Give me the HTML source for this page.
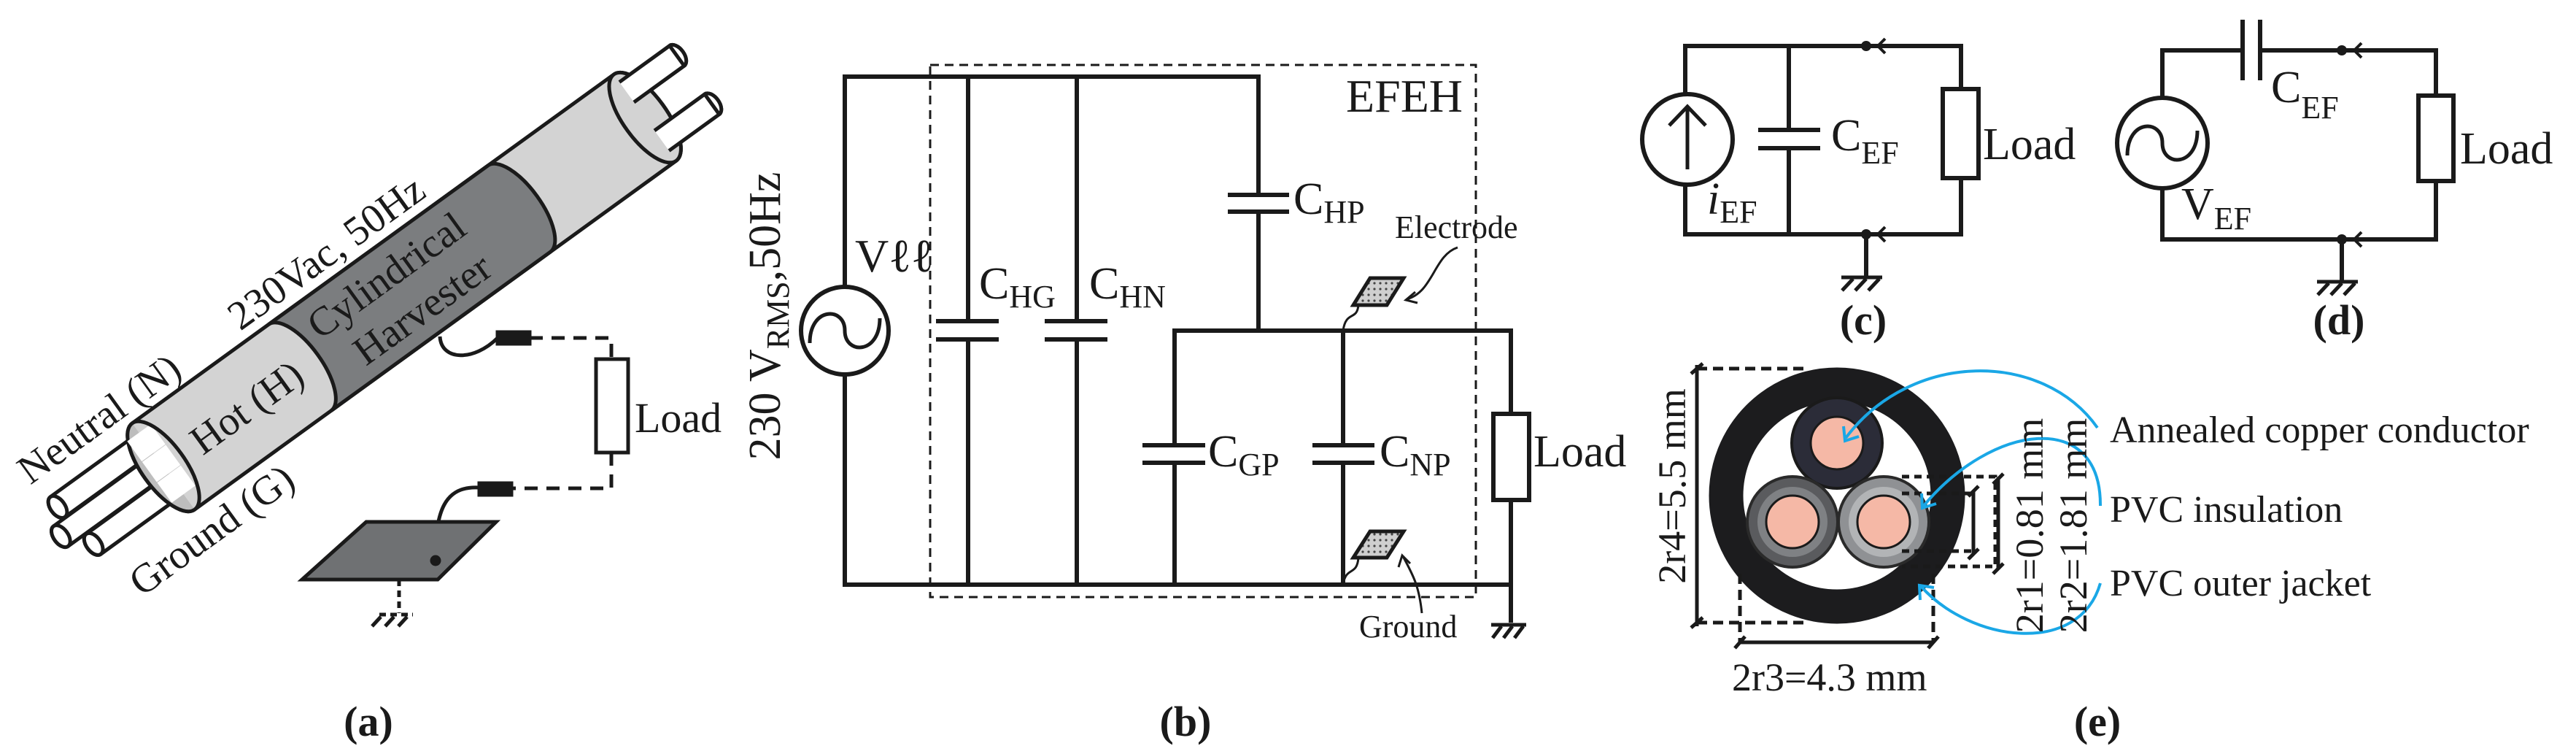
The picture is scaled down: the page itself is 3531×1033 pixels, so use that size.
<!DOCTYPE html>
<html><head><meta charset="utf-8"><style>
html,body{margin:0;padding:0;background:#fff;}
svg{display:block;}
text{font-family:"Liberation Serif",serif;fill:#1a1a1a;}
</style></head><body>
<svg width="3531" height="1033" viewBox="0 0 3531 1033" xmlns="http://www.w3.org/2000/svg">
<defs>
<pattern id="dots" width="8" height="8" patternUnits="userSpaceOnUse">
<rect width="8" height="8" fill="#cfcfcf"/><circle cx="4" cy="4" r="1.6" fill="#444"/>
</pattern>
</defs>

<!-- ============ (a) ============ -->
<g transform="translate(224,639) rotate(-35.9)" stroke="#1a1a1a" stroke-width="5">
  <!-- wires left -->
  <g fill="#fff">
    <path d="M-150,-57 L40,-57 L40,-23 L-150,-23 A10,17 0 0 1 -150,-57 Z"/>
    <ellipse cx="-150" cy="-40" rx="10" ry="17"/>
    <path d="M-170,-22 L40,-22 L40,12 L-170,12 A10,17 0 0 1 -170,-22 Z"/>
    <ellipse cx="-170" cy="-5" rx="10" ry="17"/>
    <path d="M-140,13 L40,13 L40,47 L-140,47 A10,17 0 0 1 -140,13 Z"/>
    <ellipse cx="-140" cy="30" rx="10" ry="17"/>
  </g>
  <!-- wires right -->
  <g fill="#fff">
    <path d="M790,-60 L900,-60 A10,17 0 0 1 900,-26 L790,-26 Z"/>
    <ellipse cx="900" cy="-43" rx="10" ry="17"/>
    <path d="M790,22 L900,22 A10,17 0 0 1 900,56 L790,56 Z"/>
    <ellipse cx="900" cy="39" rx="10" ry="17"/>
  </g>
  <!-- tube -->
  <path d="M0,-73 L815,-73 A30,73 0 0 1 815,73 L0,73 A30,73 0 0 1 0,-73 Z" fill="#d3d3d3"/>
  <path d="M231,-73 A30,73 0 0 1 231,73 L602,73 A30,73 0 0 0 602,-73 Z" fill="#7b7d7f"/>
  <ellipse cx="815" cy="0" rx="30" ry="73" fill="#d3d3d3"/>
  <!-- left opening -->
  <path d="M0,-73 A30,73 0 0 0 0,73" fill="#bdbdbd"/>
  <g fill="#fff">
    <rect x="-20" y="-57" width="40" height="34" stroke="none"/>
    <rect x="-20" y="-22" width="40" height="34" stroke="none"/>
    <rect x="-20" y="13" width="40" height="34" stroke="none"/>
  </g>
  <path d="M0,-73 A30,73 0 0 1 0,73" fill="none"/>
  <!-- right wires emerging over face -->
  <g fill="#fff">
    <path d="M815,-60 L900,-60 L900,-26 L815,-26" />
    <path d="M815,22 L900,22 L900,56 L815,56" />
  </g>
  <g stroke="none">
    <text x="-163" y="-86" font-size="56">Neutral (N)</text>
    <text x="194" y="-88" font-size="56">230Vac, 50Hz</text>
    <text x="52" y="20" font-size="56">Hot (H)</text>
    <text x="275" y="-14" font-size="56">Cylindrical</text>
    <text x="305" y="52" font-size="56">Harvester</text>
    <text x="-129" y="128" font-size="56">Ground (G)</text>
  </g>
</g>
<!-- harvester connection -->
<g stroke="#1a1a1a" stroke-width="5" fill="none">
  <path d="M603,461 C605,495 650,495 682,463"/>
  <rect x="682" y="455" width="44" height="16" fill="#1a1a1a"/>
  <path d="M726,463 L838,463 L838,492" stroke-dasharray="18,12"/>
  <rect x="817" y="492" width="44" height="128" fill="#fff"/>
  <path d="M838,620 L838,669 L701,669" stroke-dasharray="18,12"/>
  <rect x="657" y="662" width="44" height="16" fill="#1a1a1a"/>
  <path d="M657,668 C610,665 596,700 597,768"/>
  <path d="M414,794 L502,715 L680,715 L600,794 Z" fill="#6f7173"/>
  <circle cx="597" cy="768" r="5" fill="#1a1a1a"/>
  <path d="M547,794 L547,840" stroke-dasharray="9,6"/>
  <path d="M520,842 L566,842" stroke-dasharray="9,6"/>
  <path d="M522,845 L510,858 M540,845 L528,858 M558,845 L546,858"/>
</g>
<text x="870" y="592" font-size="58">Load</text>
<text x="505" y="1008" font-size="58" font-weight="bold" text-anchor="middle">(a)</text>

<!-- ============ (b) ============ -->
<g stroke="#1a1a1a" stroke-width="6" fill="none">
  <rect x="1275" y="89" width="748" height="729" stroke-width="3" stroke-dasharray="12,8"/>
  <path d="M1158,393 L1158,105 L1725,105 L1725,267 M1725,290 L1725,453"/>
  <path d="M1158,513 L1158,801 L2071,801"/>
  <circle cx="1158" cy="453" r="60" fill="#fff"/>
  <path d="M1110,470 C1110,420 1158,420 1158,453 C1158,486 1206,486 1206,436" stroke-width="5"/>
  <path d="M1327,105 L1327,440 M1327,465 L1327,801 M1283,440 L1369,440 M1283,465 L1369,465"/>
  <path d="M1476,105 L1476,440 M1476,465 L1476,801 M1432,440 L1518,440 M1432,465 L1518,465"/>
  <path d="M1683,267 L1767,267 M1683,290 L1767,290"/>
  <path d="M1610,801 L1610,634 M1610,610 L1610,453 L2071,453 L2071,567 M2071,685 L2071,853"/>
  <path d="M1566,610 L1652,610 M1566,634 L1652,634"/>
  <path d="M1841,801 L1841,634 M1841,610 L1841,453 M1799,610 L1884,610 M1799,634 L1884,634"/>
  <rect x="2047" y="567" width="49" height="118" fill="#fff"/>
  <path d="M2044,856 L2092,856 M2058,858 L2046,874 M2073,858 L2061,874 M2088,858 L2076,874" stroke-width="5"/>
  <!-- electrodes -->
  <path d="M1841,453 C1845,425 1860,440 1862,418" stroke-width="3"/>
  <path d="M1855,418 L1878,381 L1924,381 L1901,418 Z" fill="url(#dots)" stroke-width="5"/>
  <path d="M1841,801 C1845,775 1860,790 1862,764" stroke-width="3"/>
  <path d="M1855,764 L1878,728 L1924,728 L1901,764 Z" fill="url(#dots)" stroke-width="5"/>
  <path d="M1998,339 C1965,350 1965,400 1928,410" stroke-width="3"/>
  <path d="M1940,400 L1927,411 L1943,415" stroke-width="3"/>
  <path d="M1949,840 C1945,800 1935,785 1923,762" stroke-width="3"/>
  <path d="M1917,777 L1922,761 L1933,772" stroke-width="3"/>
</g>
<text x="1172" y="372" font-size="64">Vℓℓ</text>
<text x="1342" y="409" font-size="62">C<tspan font-size="44" dy="12">HG</tspan></text>
<text x="1493" y="409" font-size="62">C<tspan font-size="44" dy="12">HN</tspan></text>
<text x="1773" y="293" font-size="62">C<tspan font-size="44" dy="12">HP</tspan></text>
<text x="1656" y="639" font-size="62">C<tspan font-size="44" dy="12">GP</tspan></text>
<text x="1891" y="639" font-size="62">C<tspan font-size="44" dy="12">NP</tspan></text>
<text x="1845" y="153" font-size="64">EFEH</text>
<text x="1912" y="326" font-size="44">Electrode</text>
<text x="1863" y="873" font-size="44">Ground</text>
<text x="2102" y="639" font-size="62">Load</text>
<text transform="translate(1069,433) rotate(-90)" font-size="62" text-anchor="middle">230 V<tspan font-size="44" dy="12">RMS</tspan><tspan dy="-12">,50Hz</tspan></text>
<text x="1625" y="1008" font-size="58" font-weight="bold" text-anchor="middle">(b)</text>

<!-- ============ (c) ============ -->
<g stroke="#1a1a1a" stroke-width="6" fill="none">
  <path d="M2310,129 L2310,63 L2558,63 L2688,63 L2688,122 M2688,244 L2688,321 L2310,321 L2310,254"/>
  <circle cx="2313" cy="191" r="62" fill="#fff"/>
  <path d="M2313,232 L2313,146 M2288,172 L2313,146 L2338,172" stroke-width="5"/>
  <path d="M2452,63 L2452,178 M2452,203 L2452,321 M2410,178 L2495,178 M2410,203 L2495,203"/>
  <rect x="2663" y="122" width="49" height="122" fill="#fff"/>
  <path d="M2558,321 L2558,380"/>
  <path d="M2524,380 L2580,380 M2540,382 L2525,398 M2558,382 L2543,398 M2576,382 L2561,398" stroke-width="5"/>
  <path d="M2584,53 L2574,63 L2584,73 M2584,311 L2574,321 L2584,331" stroke-width="4"/>
</g>
<circle cx="2558" cy="63" r="7" fill="#1a1a1a"/>
<circle cx="2558" cy="321" r="7" fill="#1a1a1a"/>
<text x="2510" y="206" font-size="62">C<tspan font-size="44" dy="18">EF</tspan></text>
<text x="2718" y="218" font-size="62">Load</text>
<text x="2340" y="293" font-size="62" font-style="italic">i<tspan font-size="44" font-style="normal" dy="12">EF</tspan></text>
<text x="2554" y="458" font-size="58" font-weight="bold" text-anchor="middle">(c)</text>

<!-- ============ (d) ============ -->
<g stroke="#1a1a1a" stroke-width="6" fill="none">
  <path d="M2964,134 L2964,69 L3074,69 M3098,69 L3339,69 L3339,131 M3339,248 L3339,328 L2964,328 L2964,258"/>
  <path d="M3074,27 L3074,110 M3098,27 L3098,110"/>
  <circle cx="2964" cy="196" r="62" fill="#fff"/>
  <path d="M2916,213 C2916,163 2964,163 2964,196 C2964,229 3012,229 3012,179" stroke-width="5"/>
  <rect x="3315" y="131" width="48" height="117" fill="#fff"/>
  <path d="M3210,328 L3210,386"/>
  <path d="M3176,386 L3232,386 M3192,388 L3177,404 M3210,388 L3195,404 M3228,388 L3213,404" stroke-width="5"/>
  <path d="M3237,59 L3227,69 L3237,79 M3237,318 L3227,328 L3237,338" stroke-width="4"/>
</g>
<circle cx="3210" cy="69" r="7" fill="#1a1a1a"/>
<circle cx="3210" cy="328" r="7" fill="#1a1a1a"/>
<text x="3113" y="140" font-size="62">C<tspan font-size="44" dy="22">EF</tspan></text>
<text x="3372" y="224" font-size="62">Load</text>
<text x="2990" y="300" font-size="62">V<tspan font-size="44" dy="14">EF</tspan></text>
<text x="3206" y="458" font-size="58" font-weight="bold" text-anchor="middle">(d)</text>

<!-- ============ (e) ============ -->
<circle cx="2518" cy="679" r="152" fill="none" stroke="#1c1c1e" stroke-width="47"/>
<circle cx="2518" cy="607" r="62" fill="#2b2c38" stroke="#1a1a1a" stroke-width="4"/>
<circle cx="2518" cy="607" r="36" fill="#f5b8a6" stroke="#1a1a1a" stroke-width="3"/>
<circle cx="2457" cy="715" r="62" fill="#5a5b5e" stroke="#2a2a2a" stroke-width="4"/>
<circle cx="2457" cy="715" r="48" fill="#7f8184"/>
<circle cx="2457" cy="715" r="36" fill="#f5b8a6" stroke="#1a1a1a" stroke-width="3"/>
<circle cx="2582" cy="715" r="62" fill="#8f9194" stroke="#2a2a2a" stroke-width="4"/>
<circle cx="2582" cy="715" r="48" fill="#b2b4b6"/>
<circle cx="2582" cy="715" r="36" fill="#f5b8a6" stroke="#1a1a1a" stroke-width="3"/>
<g stroke="#1a1a1a" stroke-width="5" fill="none">
  <path d="M2326,505 L2480,505 M2326,853 L2480,853" stroke-dasharray="14,8"/>
  <path d="M2326,500 L2326,858 M2318,512 L2334,498 M2318,860 L2334,846"/>
  <path d="M2385,786 L2385,880 M2650,786 L2650,880" stroke-dasharray="14,8"/>
  <path d="M2385,880 L2650,880 M2378,888 L2392,872 M2643,888 L2657,872"/>
  <path d="M2607,653 L2735,653 L2735,776 L2607,776" stroke-dasharray="10,7"/>
  <path d="M2607,676 L2705,676 M2607,755 L2705,755" stroke-dasharray="10,7"/>
  <path d="M2705,673 L2705,759 M2739,656 L2739,779 M2698,680 L2712,666 M2698,766 L2712,752 M2732,663 L2746,649 M2732,786 L2746,772"/>
</g>
<g stroke="#1aa7e6" stroke-width="4" fill="none">
  <path d="M2875,586 C2800,480 2620,480 2530,600"/>
  <path d="M2527,584 L2529,604 L2548,598"/>
  <path d="M2879,693 C2880,560 2730,580 2636,694"/>
  <path d="M2634,676 L2635,696 L2654,690"/>
  <path d="M2879,799 C2850,900 2700,880 2632,802"/>
  <path d="M2632,822 L2631,802 L2651,805"/>
</g>
<text transform="translate(2310,666) rotate(-90)" font-size="54" text-anchor="middle">2r4=5.5 mm</text>
<text transform="translate(2800,720) rotate(-90)" font-size="54" text-anchor="middle">2r1=0.81 mm</text>
<text transform="translate(2860,720) rotate(-90)" font-size="54" text-anchor="middle">2r2=1.81 mm</text>
<text x="2374" y="946" font-size="54">2r3=4.3 mm</text>
<text x="2892" y="606" font-size="52">Annealed copper conductor</text>
<text x="2892" y="715" font-size="52">PVC insulation</text>
<text x="2892" y="816" font-size="52">PVC outer jacket</text>
<text x="2875" y="1008" font-size="58" font-weight="bold" text-anchor="middle">(e)</text>
</svg>
</body></html>
